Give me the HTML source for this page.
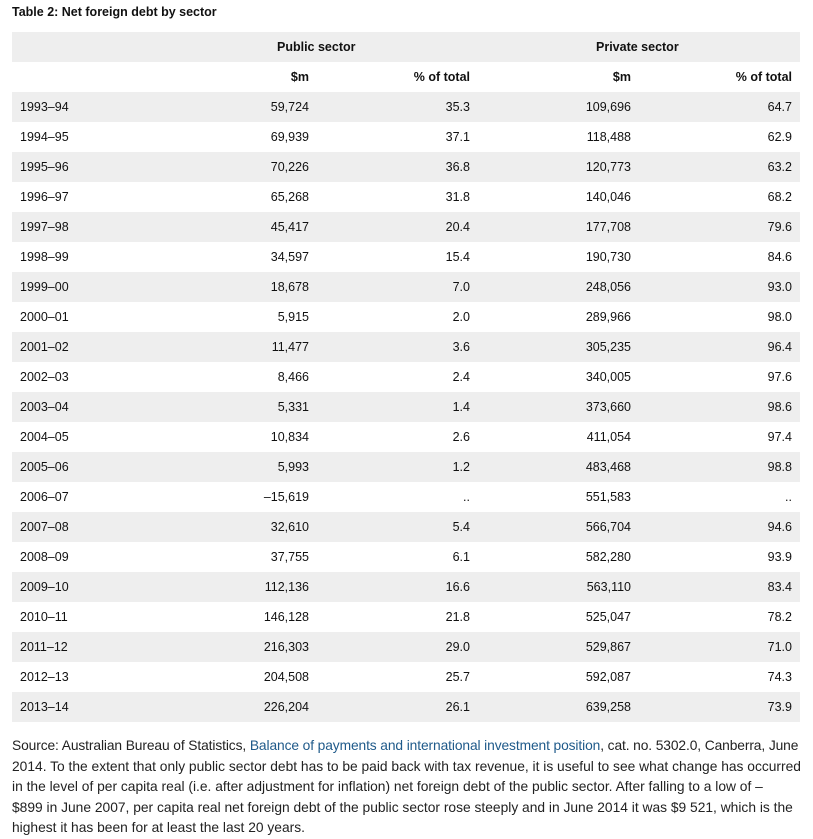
<!DOCTYPE html>
<html><head><meta charset="utf-8"><style>
body{margin:0;background:#fff;width:813px;height:824px;position:relative;font-family:"Liberation Sans",sans-serif;color:#111;overflow:hidden}
.t{position:absolute;left:12px;top:5px;font-size:12.5px;font-weight:bold}
.row{position:absolute;left:12px;width:788px;height:30px;font-size:12.5px;line-height:30px}
.g{background:#eeeeee}
.row span{position:absolute;white-space:nowrap}
.c0{left:8px}
.c1{right:491px}.c2{right:330px}.c3{right:169px}.c4{right:8px}
.src{position:absolute;left:12px;top:736px;font-family:"Liberation Sans",sans-serif;font-size:13.8px;line-height:20.5px;white-space:nowrap;color:#222}
.src a{color:#1f5a8a;text-decoration:none}
</style></head><body>
<div class="t">Table 2: Net foreign debt by sector</div>
<div class="row g" style="top:32px;font-weight:bold"><span style="left:265px">Public sector</span><span style="left:584px">Private sector</span></div>
<div class="row" style="top:62px;font-weight:bold"><span class="c1">$m</span><span class="c2">% of total</span><span class="c3">$m</span><span class="c4">% of total</span></div>
<div class="row g" style="top:92px"><span class="c0">1993–94</span><span class="c1">59,724</span><span class="c2">35.3</span><span class="c3">109,696</span><span class="c4">64.7</span></div>
<div class="row" style="top:122px"><span class="c0">1994–95</span><span class="c1">69,939</span><span class="c2">37.1</span><span class="c3">118,488</span><span class="c4">62.9</span></div>
<div class="row g" style="top:152px"><span class="c0">1995–96</span><span class="c1">70,226</span><span class="c2">36.8</span><span class="c3">120,773</span><span class="c4">63.2</span></div>
<div class="row" style="top:182px"><span class="c0">1996–97</span><span class="c1">65,268</span><span class="c2">31.8</span><span class="c3">140,046</span><span class="c4">68.2</span></div>
<div class="row g" style="top:212px"><span class="c0">1997–98</span><span class="c1">45,417</span><span class="c2">20.4</span><span class="c3">177,708</span><span class="c4">79.6</span></div>
<div class="row" style="top:242px"><span class="c0">1998–99</span><span class="c1">34,597</span><span class="c2">15.4</span><span class="c3">190,730</span><span class="c4">84.6</span></div>
<div class="row g" style="top:272px"><span class="c0">1999–00</span><span class="c1">18,678</span><span class="c2">7.0</span><span class="c3">248,056</span><span class="c4">93.0</span></div>
<div class="row" style="top:302px"><span class="c0">2000–01</span><span class="c1">5,915</span><span class="c2">2.0</span><span class="c3">289,966</span><span class="c4">98.0</span></div>
<div class="row g" style="top:332px"><span class="c0">2001–02</span><span class="c1">11,477</span><span class="c2">3.6</span><span class="c3">305,235</span><span class="c4">96.4</span></div>
<div class="row" style="top:362px"><span class="c0">2002–03</span><span class="c1">8,466</span><span class="c2">2.4</span><span class="c3">340,005</span><span class="c4">97.6</span></div>
<div class="row g" style="top:392px"><span class="c0">2003–04</span><span class="c1">5,331</span><span class="c2">1.4</span><span class="c3">373,660</span><span class="c4">98.6</span></div>
<div class="row" style="top:422px"><span class="c0">2004–05</span><span class="c1">10,834</span><span class="c2">2.6</span><span class="c3">411,054</span><span class="c4">97.4</span></div>
<div class="row g" style="top:452px"><span class="c0">2005–06</span><span class="c1">5,993</span><span class="c2">1.2</span><span class="c3">483,468</span><span class="c4">98.8</span></div>
<div class="row" style="top:482px"><span class="c0">2006–07</span><span class="c1">–15,619</span><span class="c2">..</span><span class="c3">551,583</span><span class="c4">..</span></div>
<div class="row g" style="top:512px"><span class="c0">2007–08</span><span class="c1">32,610</span><span class="c2">5.4</span><span class="c3">566,704</span><span class="c4">94.6</span></div>
<div class="row" style="top:542px"><span class="c0">2008–09</span><span class="c1">37,755</span><span class="c2">6.1</span><span class="c3">582,280</span><span class="c4">93.9</span></div>
<div class="row g" style="top:572px"><span class="c0">2009–10</span><span class="c1">112,136</span><span class="c2">16.6</span><span class="c3">563,110</span><span class="c4">83.4</span></div>
<div class="row" style="top:602px"><span class="c0">2010–11</span><span class="c1">146,128</span><span class="c2">21.8</span><span class="c3">525,047</span><span class="c4">78.2</span></div>
<div class="row g" style="top:632px"><span class="c0">2011–12</span><span class="c1">216,303</span><span class="c2">29.0</span><span class="c3">529,867</span><span class="c4">71.0</span></div>
<div class="row" style="top:662px"><span class="c0">2012–13</span><span class="c1">204,508</span><span class="c2">25.7</span><span class="c3">592,087</span><span class="c4">74.3</span></div>
<div class="row g" style="top:692px"><span class="c0">2013–14</span><span class="c1">226,204</span><span class="c2">26.1</span><span class="c3">639,258</span><span class="c4">73.9</span></div>
<div class="src"><span style="letter-spacing:-0.11px">Source: Australian Bureau of Statistics, <a>Balance of payments and international investment position</a>, cat. no. 5302.0, Canberra, June</span><br>2014. To the extent that only public sector debt has to be paid back with tax revenue, it is useful to see what change has occurred<br>in the level of per capita real (i.e. after adjustment for inflation) net foreign debt of the public sector. After falling to a low of –<br>$899 in June 2007, per capita real net foreign debt of the public sector rose steeply and in June 2014 it was $9 521, which is the<br>highest it has been for at least the last 20 years.</div>
</body></html>
